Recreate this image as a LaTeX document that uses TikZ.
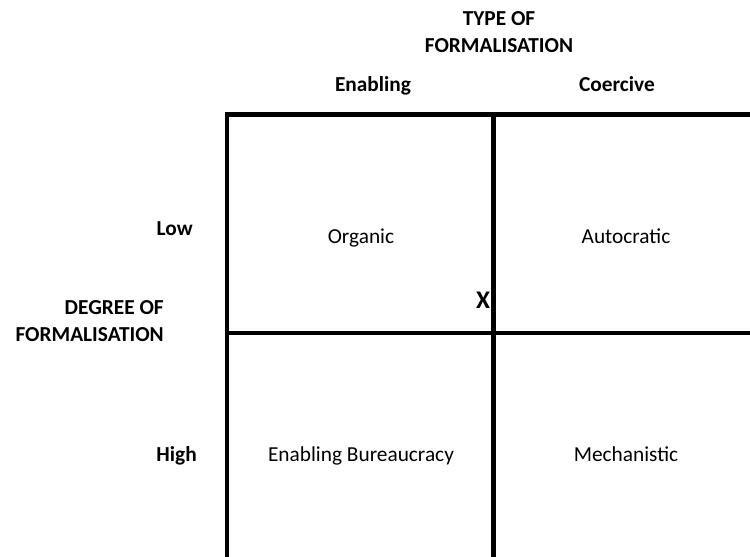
\documentclass[tikz,border=0pt]{standalone}
\usepackage{fontspec}
\setmainfont{Carlito}
\begin{document}
\begin{tikzpicture}[x=0.75pt,y=-0.75pt,
  lbl/.style={font=\fontsize{16}{20.25}\selectfont, inner sep=0pt, anchor=base},
  hd/.style={lbl, font=\fontsize{16}{20.25}\selectfont\bfseries},
  grid/.style={line width=3.5pt, black}]
\useasboundingbox (0,0) rectangle (750,557);
% grid coordinates
\coordinate (tl) at (227,114.5);
\coordinate (tm) at (493.5,114.5);
\coordinate (tr) at (750,114.5);
\coordinate (ml) at (227,333);
\coordinate (mr) at (750,333);
\coordinate (bl) at (227,557);
\coordinate (bm) at (493.5,557);
\draw[grid] (tr) -- (tl) -- (bl);
\draw[grid] (tm) -- (bm);
\draw[grid] (ml) -- (mr);
% headings
\node[hd, align=center] (type) at (499,52) {TYPE OF\\FORMALISATION};
\node[hd] (en) at (373,91) {Enabling};
\node[hd] (co) at (617,91) {Coercive};
\node[hd, anchor=base east] (low) at (193,235) {Low};
\node[hd, anchor=base east] (high) at (197,461) {High};
\node[hd, align=right, anchor=base east] (deg) at (164,341) {DEGREE OF\\FORMALISATION};
% cells
\node[lbl] (org) at (361,243) {Organic};
\node[lbl] (aut) at (626,243) {Autocratic};
\node[lbl] (eb) at (361,461) {Enabling Bureaucracy};
\node[lbl] (mec) at (626,461) {Mechanistic};
\node[hd, font=\fontsize{19}{22}\selectfont\bfseries] (x) at (483,308.5) {X};
\end{tikzpicture}
\end{document}
